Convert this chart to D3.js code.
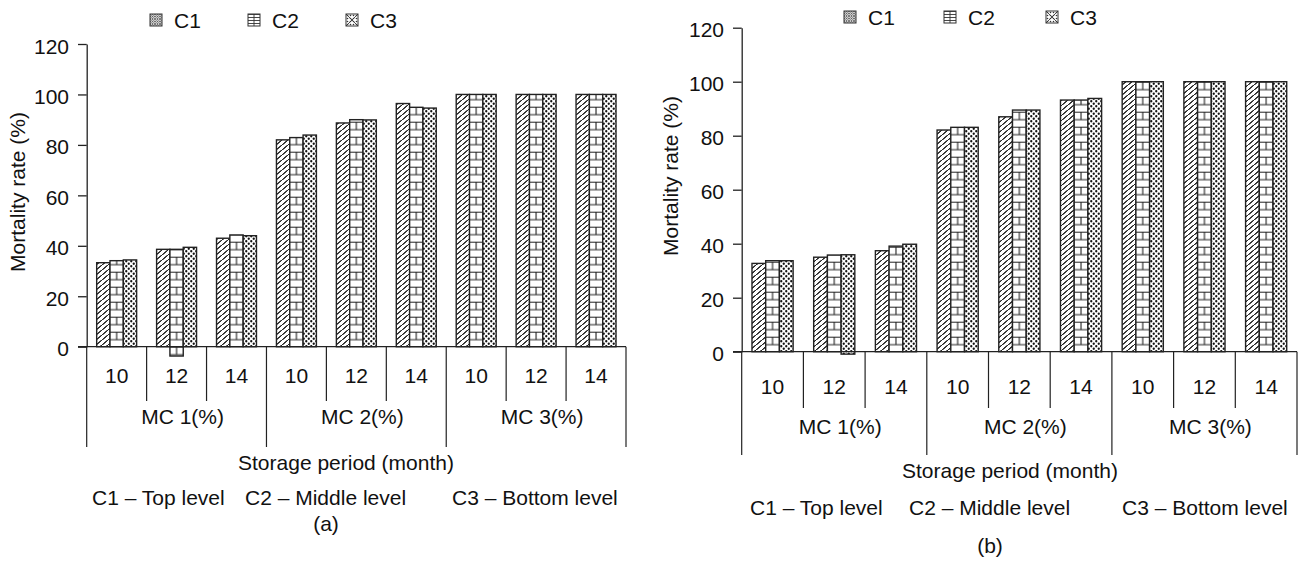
<!DOCTYPE html>
<html>
<head>
<meta charset="utf-8">
<script src="https://cdn.jsdelivr.net/npm/d3@7"></script>
<style>
  body { margin: 0; background: #fff; }
  text { font-family: "Liberation Sans", Arial, Helvetica, sans-serif; fill: #111; }
</style>
</head>
<body>
<div id="chart"></div>
<script>
// storage period ticks, moisture content groups, series
var categories = ["10", "12", "14", "10", "12", "14", "10", "12", "14"];
var groups = ["MC 1(%)", "MC 2(%)", "MC 3(%)"];
var series = ["C1", "C2", "C3"];
var notes = ["C1 \u2013 Top level", "C2 \u2013 Middle level", "C3 \u2013 Bottom level"];
var yTicks = [0, 20, 40, 60, 80, 100, 120];

// panel (a) mortality rate (%)
var a_C1 = [33.3, 38.6, 43.0, 82.0, 88.7, 96.4, 100, 100, 100];
var a_C2 = [34.1, 38.6, 44.3, 82.9, 90.0, 94.9, 100, 100, 100];
var a_C3 = [34.4, 39.4, 44.0, 83.9, 89.9, 94.6, 100, 100, 100];
// bar bottoms (one bar in the figure runs below zero)
var a_C1_base = [0, 0, 0, 0, 0, 0, 0, 0, 0];
var a_C2_base = [0, -3.7, 0, 0, 0, 0, 0, 0, 0];
var a_C3_base = [0, 0, 0, 0, 0, 0, 0, 0, 0];

// panel (b) mortality rate (%)
var b_C1 = [32.7, 35.0, 37.4, 82.1, 87.0, 93.2, 100, 100, 100];
var b_C2 = [33.7, 35.8, 39.1, 83.1, 89.5, 93.2, 100, 100, 100];
var b_C3 = [33.7, 35.9, 39.8, 83.1, 89.5, 93.8, 100, 100, 100];
var b_C1_base = [0, 0, 0, 0, 0, 0, 0, 0, 0];
var b_C2_base = [0, 0, 0, 0, 0, 0, 0, 0, 0];
var b_C3_base = [0, -0.9, 0, 0, 0, 0, 0, 0, 0];

var ink = "#222";
var fs = "21px";

var svg = d3.select("#chart").append("svg")
    .attr("width", 1301)
    .attr("height", 561);
var defs = svg.append("defs");

// C1 hatch
var p1 = defs.append("pattern").attr("id", "hatch")
    .attr("patternUnits", "userSpaceOnUse").attr("width", 6).attr("height", 5);
p1.append("path").attr("d", "M-6,10 L6,0 M0,5 L6,0 M0,5 L12,-5 M-1,5.8 L7,-0.8")
    .attr("stroke", ink).attr("stroke-width", 0.85).attr("fill", "none");

// C3 dots
var p3 = defs.append("pattern").attr("id", "dots")
    .attr("patternUnits", "userSpaceOnUse").attr("width", 5).attr("height", 5);
p3.append("rect").attr("width", 5).attr("height", 5).attr("fill", "#fff");
p3.append("circle").attr("cx", 1.25).attr("cy", 1.25).attr("r", 1.15).attr("fill", "#111");
p3.append("circle").attr("cx", 3.75).attr("cy", 3.75).attr("r", 1.15).attr("fill", "#111");

// legend swatch patterns
var l1 = defs.append("pattern").attr("id", "leg1")
    .attr("patternUnits", "userSpaceOnUse").attr("width", 2.5).attr("height", 2.5);
l1.append("rect").attr("width", 2.5).attr("height", 2.5).attr("fill", "#fff");
l1.append("path").attr("d", "M0,2.5 L2.5,0 M0,0 L2.5,2.5").attr("stroke", "#444").attr("stroke-width", 0.7);
var l2 = defs.append("pattern").attr("id", "leg2")
    .attr("patternUnits", "userSpaceOnUse").attr("width", 3).attr("height", 3);
l2.append("rect").attr("width", 3).attr("height", 3).attr("fill", "#fff");
l2.append("path").attr("d", "M0,0.5 L3,0.5").attr("stroke", "#333").attr("stroke-width", 0.9);
var l3 = defs.append("pattern").attr("id", "leg3")
    .attr("patternUnits", "userSpaceOnUse").attr("width", 3).attr("height", 3);
l3.append("rect").attr("width", 3).attr("height", 3).attr("fill", "#fff");
l3.append("circle").attr("cx", 1.5).attr("cy", 1.5).attr("r", 0.8).attr("fill", "#333");

function draw_panel(p) {
  var g = svg.append("g");
  var values = {C1: p.c1, C2: p.c2, C3: p.c3};
  var bases = {C1: p.b1, C2: p.b2, C3: p.b3};

  var x = d3.scaleBand().domain(d3.range(categories.length)).range([p.left, p.right]);
  var xs = d3.scaleBand().domain(series).range([0, x.bandwidth()]).paddingOuter(0.75);
  var y = d3.scaleLinear().domain([0, 120]).range([p.zero, p.top]);
  var rowH = 7.5;

  var bars = [];
  categories.forEach(function(c, i) {
    series.forEach(function(s) {
      bars.push({i: i, s: s, v: values[s][i], b: bases[s][i]});
    });
  });

  // brick pattern for C2, one per bar so the middle stroke sits in the bar centre
  bars.filter(function(d) { return d.s == "C2"; }).forEach(function(d) {
    var bx = x(d.i) + xs(d.s), bw = xs.bandwidth();
    var pt = defs.append("pattern").attr("id", "brick-" + p.id + "-" + d.i)
        .attr("patternUnits", "userSpaceOnUse")
        .attr("x", bx).attr("y", y(0)).attr("width", bw).attr("height", rowH * 2);
    pt.append("rect").attr("width", bw).attr("height", rowH * 2).attr("fill", "#fff");
    pt.append("path")
        .attr("d", "M0,0.5 H" + bw + " M0," + (rowH + 0.5) + " H" + bw +
                   " M" + bw / 2 + ",0.5 V" + (rowH + 0.5))
        .attr("stroke", ink).attr("stroke-width", 1.1);
  });

  var fills = {C1: function() { return "url(#hatch)"; },
               C2: function(d) { return "url(#brick-" + p.id + "-" + d.i + ")"; },
               C3: function() { return "url(#dots)"; }};

  g.selectAll(".bar")
      .data(bars)
    .enter().append("rect")
      .attr("class", "bar")
      .attr("x", function(d) { return x(d.i) + xs(d.s); })
      .attr("y", function(d) { return y(d.v); })
      .attr("width", xs.bandwidth())
      .attr("height", function(d) { return y(d.b) - y(d.v); })
      .attr("fill", function(d) { return fills[d.s](d); })
      .attr("stroke", ink)
      .attr("stroke-width", 1.4);

  // y axis
  var yAxis = g.append("g")
      .attr("transform", "translate(" + p.left + ",0)")
      .call(d3.axisLeft(y).tickValues(yTicks).tickSize(8.7).tickSizeOuter(0).tickPadding(9));
  yAxis.select(".domain").attr("stroke", ink).attr("stroke-width", 1.3);
  yAxis.selectAll(".tick line").attr("stroke", ink).attr("stroke-width", 1.3);
  yAxis.selectAll(".tick text")
      .attr("font-size", fs)
      .attr("font-family", "Liberation Sans, Arial, sans-serif")
      .attr("fill", "#111")
      .attr("dy", "0.43em");

  // zero line / category frame
  g.append("line")
      .attr("x1", p.left - 8.7).attr("x2", p.right)
      .attr("y1", y(0)).attr("y2", y(0))
      .attr("stroke", ink).attr("stroke-width", 1.3);

  var edges = d3.range(categories.length + 1);
  g.selectAll(".divider")
      .data(edges)
    .enter().append("line")
      .attr("class", "divider")
      .attr("x1", function(k) { return k < categories.length ? x(k) : p.right; })
      .attr("x2", function(k) { return k < categories.length ? x(k) : p.right; })
      .attr("y1", y(0))
      .attr("y2", function(k) { return k % 3 == 0 ? p.longY : p.shortY; })
      .attr("stroke", ink).attr("stroke-width", 1.2);

  g.selectAll(".cat")
      .data(categories)
    .enter().append("text")
      .attr("class", "cat")
      .attr("x", function(d, i) { return x(i) + x.bandwidth() / 2; })
      .attr("y", p.catY)
      .attr("text-anchor", "middle")
      .attr("font-size", fs)
      .text(function(d) { return d; });

  g.selectAll(".grp")
      .data(groups)
    .enter().append("text")
      .attr("class", "grp")
      .attr("x", function(d, i) { return x(i * 3) + x.bandwidth() * 1.5 + 6; })
      .attr("y", p.grpY)
      .attr("text-anchor", "middle")
      .attr("font-size", fs)
      .text(function(d) { return d; });

  g.append("text")
      .attr("x", p.storageX).attr("y", p.storageY)
      .attr("text-anchor", "middle")
      .attr("font-size", fs)
      .text("Storage period (month)");

  g.selectAll(".note")
      .data(notes)
    .enter().append("text")
      .attr("class", "note")
      .attr("x", function(d, i) { return p.noteX[i]; })
      .attr("y", p.noteY)
      .attr("font-size", fs)
      .text(function(d) { return d; });

  g.append("text")
      .attr("x", p.labX).attr("y", p.labY)
      .attr("text-anchor", "middle")
      .attr("font-size", fs)
      .text(p.label);

  g.append("text")
      .attr("transform", "translate(" + p.titleX + "," + p.titleY + ")rotate(-90)")
      .attr("text-anchor", "middle")
      .attr("font-size", fs)
      .text("Mortality rate (%)");

  // legend
  var leg = g.selectAll(".leg")
      .data(series)
    .enter().append("g")
      .attr("class", "leg")
      .attr("transform", function(d, i) { return "translate(" + p.legX[i] + "," + p.legY + ")"; });
  leg.append("rect")
      .attr("width", 12).attr("height", 12)
      .attr("fill", function(d, i) { return "url(#leg" + (i + 1) + ")"; })
      .attr("stroke", "#333").attr("stroke-width", 1);
  leg.filter(function(d) { return d == "C2"; }).append("path")
      .attr("d", "M6,0 V12").attr("stroke", "#333").attr("stroke-width", 0.9);
  leg.filter(function(d) { return d == "C3"; }).append("path")
      .attr("d", "M0,0 L12,12 M12,0 L0,12").attr("stroke", "#333").attr("stroke-width", 0.9);
  leg.append("text")
      .attr("x", 24).attr("y", 13.5)
      .attr("font-size", fs)
      .text(function(d) { return d; });
}

draw_panel({
  id: "a", c1: a_C1, c2: a_C2, c3: a_C3, b1: a_C1_base, b2: a_C2_base, b3: a_C3_base,
  left: 86.7, right: 626, zero: 346.7, top: 44,
  catY: 383, shortY: 401, longY: 447, grpY: 424,
  storageX: 346, storageY: 470,
  noteX: [92, 245, 452], noteY: 504.5,
  label: "(a)", labX: 326, labY: 531,
  titleX: 25, titleY: 192,
  legX: [150, 248, 346], legY: 14
});

draw_panel({
  id: "b", c1: b_C1, c2: b_C2, c3: b_C3, b1: b_C1_base, b2: b_C2_base, b3: b_C3_base,
  left: 741.7, right: 1297, zero: 351.7, top: 27.7,
  catY: 393.5, shortY: 408, longY: 455, grpY: 434,
  storageX: 1010, storageY: 478,
  noteX: [750, 909, 1122], noteY: 515,
  label: "(b)", labX: 990, labY: 553,
  titleX: 678, titleY: 176,
  legX: [844, 944, 1046], legY: 11
});
</script>
</body>
</html>
